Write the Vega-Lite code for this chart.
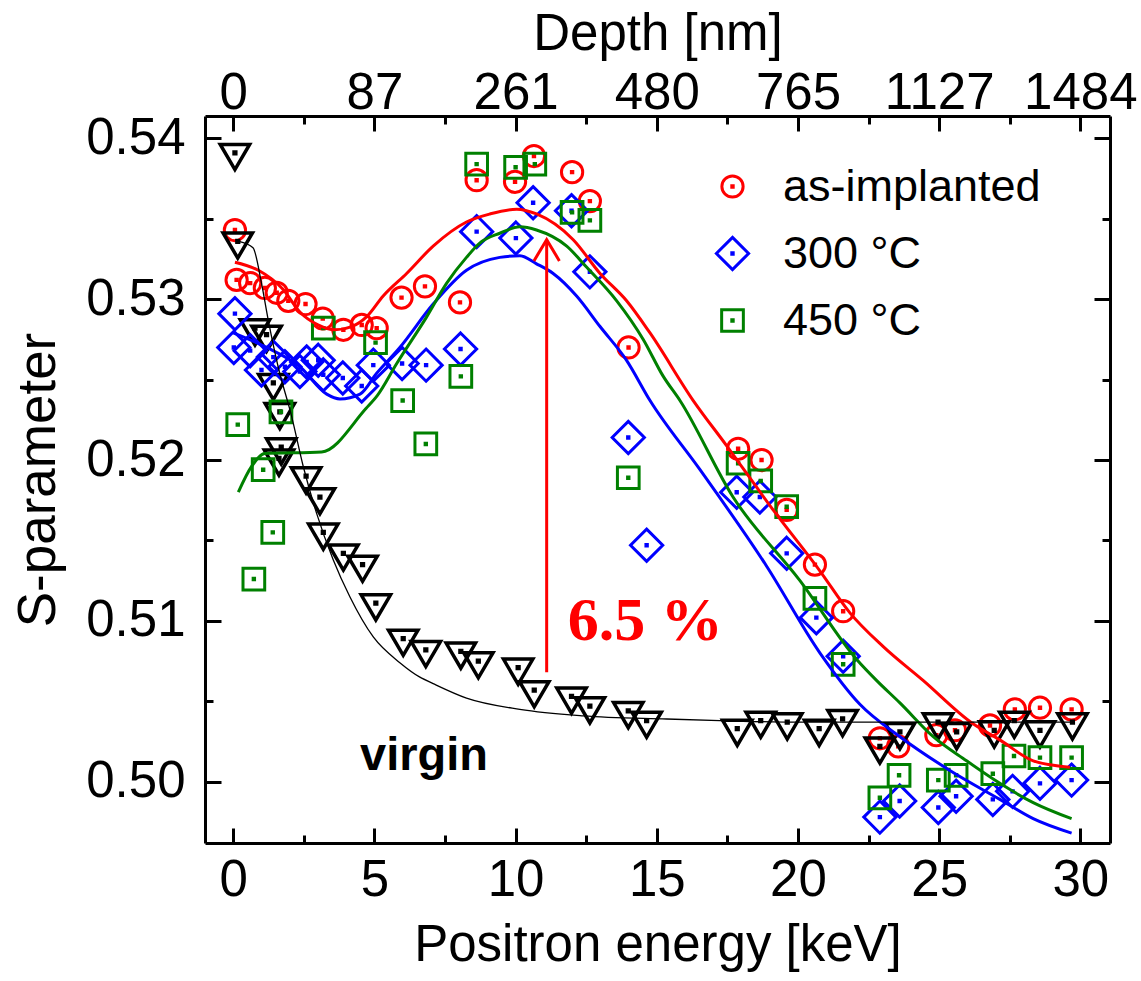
{
  "$schema": "https://vega.github.io/schema/vega-lite/v6.json",
  "width": 905,
  "height": 727,
  "autosize": {"type": "none"},
  "padding": {"left": 205, "top": 116, "right": 31, "bottom": 138},
  "background": "white",
  "config": {
    "view": {"stroke": null},
    "font": "Liberation Sans",
    "axis": {"grid": false, "domainColor": "black", "domainWidth": 3, "tickColor": "black", "tickWidth": 3, "labelColor": "black", "titleColor": "black", "labelFont": "Liberation Sans", "titleFont": "Liberation Sans", "titleFontWeight": "normal", "labelFontSize": 51, "titleFontSize": 51, "labelFlush": false, "labelOverlap": false}
  },
  "datasets": {
    "points": [
      {"series": "as-implanted", "E": 0.06, "S": 0.5343},
      {"series": "as-implanted", "E": 0.12, "S": 0.5312},
      {"series": "as-implanted", "E": 0.6, "S": 0.5310},
      {"series": "as-implanted", "E": 1.12, "S": 0.5307},
      {"series": "as-implanted", "E": 1.54, "S": 0.5304},
      {"series": "as-implanted", "E": 1.95, "S": 0.5299},
      {"series": "as-implanted", "E": 2.56, "S": 0.5297},
      {"series": "as-implanted", "E": 3.17, "S": 0.5288},
      {"series": "as-implanted", "E": 3.9, "S": 0.5281},
      {"series": "as-implanted", "E": 4.55, "S": 0.5284},
      {"series": "as-implanted", "E": 5.08, "S": 0.5282},
      {"series": "as-implanted", "E": 5.96, "S": 0.5301},
      {"series": "as-implanted", "E": 6.79, "S": 0.5308},
      {"series": "as-implanted", "E": 8.03, "S": 0.5298},
      {"series": "as-implanted", "E": 8.62, "S": 0.5374},
      {"series": "as-implanted", "E": 9.98, "S": 0.5373},
      {"series": "as-implanted", "E": 10.65, "S": 0.5389},
      {"series": "as-implanted", "E": 12.0, "S": 0.5379},
      {"series": "as-implanted", "E": 12.63, "S": 0.5361},
      {"series": "as-implanted", "E": 14.0, "S": 0.5270},
      {"series": "as-implanted", "E": 17.88, "S": 0.5207},
      {"series": "as-implanted", "E": 18.71, "S": 0.5200},
      {"series": "as-implanted", "E": 19.6, "S": 0.5169},
      {"series": "as-implanted", "E": 20.6, "S": 0.5135},
      {"series": "as-implanted", "E": 21.6, "S": 0.5106},
      {"series": "as-implanted", "E": 22.9, "S": 0.5027},
      {"series": "as-implanted", "E": 23.55, "S": 0.5022},
      {"series": "as-implanted", "E": 24.9, "S": 0.5029},
      {"series": "as-implanted", "E": 25.56, "S": 0.5032},
      {"series": "as-implanted", "E": 26.8, "S": 0.5035},
      {"series": "as-implanted", "E": 27.68, "S": 0.5045},
      {"series": "as-implanted", "E": 28.57, "S": 0.5046},
      {"series": "as-implanted", "E": 29.69, "S": 0.5045},
      {"series": "300 °C", "E": 0.06, "S": 0.5291},
      {"series": "300 °C", "E": 0.02, "S": 0.5270},
      {"series": "300 °C", "E": 0.6, "S": 0.5268},
      {"series": "300 °C", "E": 1.0, "S": 0.5256},
      {"series": "300 °C", "E": 1.42, "S": 0.5264},
      {"series": "300 °C", "E": 1.83, "S": 0.5258},
      {"series": "300 °C", "E": 2.36, "S": 0.5255},
      {"series": "300 °C", "E": 2.6, "S": 0.5261},
      {"series": "300 °C", "E": 3.01, "S": 0.5262},
      {"series": "300 °C", "E": 3.19, "S": 0.5253},
      {"series": "300 °C", "E": 3.88, "S": 0.5251},
      {"series": "300 °C", "E": 4.55, "S": 0.5246},
      {"series": "300 °C", "E": 4.96, "S": 0.5259},
      {"series": "300 °C", "E": 5.98, "S": 0.5260},
      {"series": "300 °C", "E": 6.83, "S": 0.5259},
      {"series": "300 °C", "E": 8.05, "S": 0.5269},
      {"series": "300 °C", "E": 8.62, "S": 0.5342},
      {"series": "300 °C", "E": 10.01, "S": 0.5338},
      {"series": "300 °C", "E": 10.62, "S": 0.5360},
      {"series": "300 °C", "E": 11.98, "S": 0.5355},
      {"series": "300 °C", "E": 12.63, "S": 0.5317},
      {"series": "300 °C", "E": 13.99, "S": 0.5214},
      {"series": "300 °C", "E": 14.64, "S": 0.5147},
      {"series": "300 °C", "E": 17.83, "S": 0.5180},
      {"series": "300 °C", "E": 18.65, "S": 0.5177},
      {"series": "300 °C", "E": 19.6, "S": 0.5142},
      {"series": "300 °C", "E": 20.65, "S": 0.5102},
      {"series": "300 °C", "E": 21.6, "S": 0.5078},
      {"series": "300 °C", "E": 22.9, "S": 0.4978},
      {"series": "300 °C", "E": 23.6, "S": 0.4988},
      {"series": "300 °C", "E": 24.97, "S": 0.4984},
      {"series": "300 °C", "E": 25.6, "S": 0.4991},
      {"series": "300 °C", "E": 26.9, "S": 0.4989},
      {"series": "300 °C", "E": 27.6, "S": 0.4994},
      {"series": "300 °C", "E": 28.57, "S": 0.4999},
      {"series": "300 °C", "E": 29.69, "S": 0.5001},
      {"series": "450 °C", "E": 0.16, "S": 0.5222},
      {"series": "450 °C", "E": 0.73, "S": 0.5126},
      {"series": "450 °C", "E": 1.06, "S": 0.5194},
      {"series": "450 °C", "E": 1.4, "S": 0.5155},
      {"series": "450 °C", "E": 1.69, "S": 0.5230},
      {"series": "450 °C", "E": 3.19, "S": 0.5282},
      {"series": "450 °C", "E": 5.04, "S": 0.5273},
      {"series": "450 °C", "E": 6.0, "S": 0.5237},
      {"series": "450 °C", "E": 6.82, "S": 0.5210},
      {"series": "450 °C", "E": 8.06, "S": 0.5252},
      {"series": "450 °C", "E": 8.62, "S": 0.5384},
      {"series": "450 °C", "E": 10.0, "S": 0.5382},
      {"series": "450 °C", "E": 10.68, "S": 0.5384},
      {"series": "450 °C", "E": 12.0, "S": 0.5354},
      {"series": "450 °C", "E": 12.63, "S": 0.5349},
      {"series": "450 °C", "E": 13.99, "S": 0.5189},
      {"series": "450 °C", "E": 17.88, "S": 0.5198},
      {"series": "450 °C", "E": 18.68, "S": 0.5187},
      {"series": "450 °C", "E": 19.6, "S": 0.5171},
      {"series": "450 °C", "E": 20.6, "S": 0.5114},
      {"series": "450 °C", "E": 21.6, "S": 0.5073},
      {"series": "450 °C", "E": 22.9, "S": 0.4990},
      {"series": "450 °C", "E": 23.58, "S": 0.5004},
      {"series": "450 °C", "E": 24.97, "S": 0.5001},
      {"series": "450 °C", "E": 25.6, "S": 0.5004},
      {"series": "450 °C", "E": 26.9, "S": 0.5005},
      {"series": "450 °C", "E": 27.65, "S": 0.5016},
      {"series": "450 °C", "E": 28.57, "S": 0.5015},
      {"series": "450 °C", "E": 29.69, "S": 0.5015}
    ],
    "virgin": [
      {"E": 0.06, "S": 0.5391}, {"E": 0.16, "S": 0.5336}, {"E": 0.77, "S": 0.5282}, {"E": 1.18, "S": 0.5278},
      {"E": 1.42, "S": 0.5248}, {"E": 1.65, "S": 0.5230}, {"E": 1.7, "S": 0.5208}, {"E": 1.62, "S": 0.5201},
      {"E": 2.58, "S": 0.5190}, {"E": 3.07, "S": 0.5177}, {"E": 3.19, "S": 0.5155}, {"E": 3.9, "S": 0.5142},
      {"E": 4.58, "S": 0.5135}, {"E": 5.05, "S": 0.5111}, {"E": 6.02, "S": 0.5089}, {"E": 6.82, "S": 0.5082},
      {"E": 8.06, "S": 0.5081}, {"E": 8.68, "S": 0.5075}, {"E": 10.09, "S": 0.5071}, {"E": 10.66, "S": 0.5057},
      {"E": 11.98, "S": 0.5053}, {"E": 12.63, "S": 0.5047}, {"E": 13.99, "S": 0.5044}, {"E": 14.64, "S": 0.5038},
      {"E": 17.85, "S": 0.5033}, {"E": 18.68, "S": 0.5038}, {"E": 19.62, "S": 0.5037}, {"E": 20.75, "S": 0.5033},
      {"E": 21.58, "S": 0.5039}, {"E": 22.9, "S": 0.5022}, {"E": 23.61, "S": 0.5031}, {"E": 24.96, "S": 0.5037},
      {"E": 25.62, "S": 0.5031}, {"E": 26.95, "S": 0.5032}, {"E": 27.66, "S": 0.5038}, {"E": 28.57, "S": 0.5032},
      {"E": 29.72, "S": 0.5037}
    ],
    "fits": [
      {"series": "as-implanted", "E": 0.06, "S": 0.5323},
      {"series": "as-implanted", "E": 0.89, "S": 0.5318},
      {"series": "as-implanted", "E": 1.77, "S": 0.5306},
      {"series": "as-implanted", "E": 2.36, "S": 0.5292},
      {"series": "as-implanted", "E": 3.0, "S": 0.5284},
      {"series": "as-implanted", "E": 3.6, "S": 0.5281},
      {"series": "as-implanted", "E": 4.2, "S": 0.5283},
      {"series": "as-implanted", "E": 4.72, "S": 0.5289},
      {"series": "as-implanted", "E": 5.31, "S": 0.5302},
      {"series": "as-implanted", "E": 6.14, "S": 0.5316},
      {"series": "as-implanted", "E": 7.08, "S": 0.5333},
      {"series": "as-implanted", "E": 8.26, "S": 0.5348},
      {"series": "as-implanted", "E": 9.09, "S": 0.5353},
      {"series": "as-implanted", "E": 10.04, "S": 0.5356},
      {"series": "as-implanted", "E": 10.74, "S": 0.5353},
      {"series": "as-implanted", "E": 12.04, "S": 0.5337},
      {"series": "as-implanted", "E": 12.99, "S": 0.5316},
      {"series": "as-implanted", "E": 13.93, "S": 0.5299},
      {"series": "as-implanted", "E": 14.76, "S": 0.5279},
      {"series": "as-implanted", "E": 16.29, "S": 0.5237},
      {"series": "as-implanted", "E": 17.47, "S": 0.5209},
      {"series": "as-implanted", "E": 19.12, "S": 0.5169},
      {"series": "as-implanted", "E": 20.78, "S": 0.5131},
      {"series": "as-implanted", "E": 21.84, "S": 0.5105},
      {"series": "as-implanted", "E": 23.02, "S": 0.5084},
      {"series": "as-implanted", "E": 24.43, "S": 0.5063},
      {"series": "as-implanted", "E": 26.2, "S": 0.5036},
      {"series": "as-implanted", "E": 27.15, "S": 0.5026},
      {"series": "as-implanted", "E": 28.33, "S": 0.5013},
      {"series": "as-implanted", "E": 29.63, "S": 0.5009},
      {"series": "300 °C", "E": 0.0, "S": 0.5279},
      {"series": "300 °C", "E": 1.18, "S": 0.5270},
      {"series": "300 °C", "E": 2.36, "S": 0.5258},
      {"series": "300 °C", "E": 3.31, "S": 0.5241},
      {"series": "300 °C", "E": 3.78, "S": 0.5238},
      {"series": "300 °C", "E": 4.49, "S": 0.5241},
      {"series": "300 °C", "E": 5.08, "S": 0.5254},
      {"series": "300 °C", "E": 5.9, "S": 0.5270},
      {"series": "300 °C", "E": 7.08, "S": 0.5297},
      {"series": "300 °C", "E": 8.26, "S": 0.5318},
      {"series": "300 °C", "E": 9.44, "S": 0.5326},
      {"series": "300 °C", "E": 10.15, "S": 0.5327},
      {"series": "300 °C", "E": 10.74, "S": 0.5322},
      {"series": "300 °C", "E": 11.33, "S": 0.5316},
      {"series": "300 °C", "E": 12.16, "S": 0.5302},
      {"series": "300 °C", "E": 12.99, "S": 0.5283},
      {"series": "300 °C", "E": 13.93, "S": 0.5262},
      {"series": "300 °C", "E": 14.76, "S": 0.5237},
      {"series": "300 °C", "E": 16.53, "S": 0.5194},
      {"series": "300 °C", "E": 18.89, "S": 0.5134},
      {"series": "300 °C", "E": 20.78, "S": 0.5080},
      {"series": "300 °C", "E": 22.2, "S": 0.5048},
      {"series": "300 °C", "E": 23.61, "S": 0.5028},
      {"series": "300 °C", "E": 25.38, "S": 0.5007},
      {"series": "300 °C", "E": 27.15, "S": 0.4989},
      {"series": "300 °C", "E": 28.33, "S": 0.4977},
      {"series": "300 °C", "E": 29.69, "S": 0.4968},
      {"series": "450 °C", "E": 0.18, "S": 0.5180},
      {"series": "450 °C", "E": 0.65, "S": 0.5196},
      {"series": "450 °C", "E": 1.12, "S": 0.5204},
      {"series": "450 °C", "E": 3.13, "S": 0.5205},
      {"series": "450 °C", "E": 4.7, "S": 0.5232},
      {"series": "450 °C", "E": 5.1, "S": 0.5240},
      {"series": "450 °C", "E": 5.79, "S": 0.5260},
      {"series": "450 °C", "E": 6.85, "S": 0.5289},
      {"series": "450 °C", "E": 7.56, "S": 0.5310},
      {"series": "450 °C", "E": 8.26, "S": 0.5326},
      {"series": "450 °C", "E": 8.74, "S": 0.5335},
      {"series": "450 °C", "E": 9.44, "S": 0.5341},
      {"series": "450 °C", "E": 10.15, "S": 0.5345},
      {"series": "450 °C", "E": 10.74, "S": 0.5343},
      {"series": "450 °C", "E": 11.81, "S": 0.5333},
      {"series": "450 °C", "E": 12.51, "S": 0.5320},
      {"series": "450 °C", "E": 13.58, "S": 0.5299},
      {"series": "450 °C", "E": 14.52, "S": 0.5275},
      {"series": "450 °C", "E": 15.23, "S": 0.5252},
      {"series": "450 °C", "E": 15.82, "S": 0.5237},
      {"series": "450 °C", "E": 17.7, "S": 0.5177},
      {"series": "450 °C", "E": 20.07, "S": 0.5125},
      {"series": "450 °C", "E": 22.08, "S": 0.5076},
      {"series": "450 °C", "E": 22.78, "S": 0.5063},
      {"series": "450 °C", "E": 23.61, "S": 0.5049},
      {"series": "450 °C", "E": 24.79, "S": 0.5028},
      {"series": "450 °C", "E": 25.97, "S": 0.5013},
      {"series": "450 °C", "E": 27.15, "S": 0.4999},
      {"series": "450 °C", "E": 28.33, "S": 0.4987},
      {"series": "450 °C", "E": 29.69, "S": 0.4977}
    ],
    "virginfit": [
      {"E": 0.2, "S": 0.5336}, {"E": 0.7, "S": 0.5332}, {"E": 1.0, "S": 0.5310}, {"E": 1.24, "S": 0.5287},
      {"E": 1.59, "S": 0.5258}, {"E": 2.07, "S": 0.5227}, {"E": 2.48, "S": 0.5196}, {"E": 2.95, "S": 0.5167},
      {"E": 3.54, "S": 0.5138}, {"E": 4.13, "S": 0.5115}, {"E": 4.96, "S": 0.5090}, {"E": 5.9, "S": 0.5074},
      {"E": 6.61, "S": 0.5065}, {"E": 7.08, "S": 0.5061}, {"E": 8.26, "S": 0.5052}, {"E": 10.15, "S": 0.5045},
      {"E": 12.39, "S": 0.5041}, {"E": 15.35, "S": 0.5039}, {"E": 17.23, "S": 0.5038}, {"E": 20.0, "S": 0.5037},
      {"E": 25.0, "S": 0.5037}, {"E": 29.7, "S": 0.5037}
    ],
    "arrow": [{"E": 11.1, "S0": 0.5068, "S1": 0.5337}],
    "labels": [
      {"E": 11.85, "S": 0.5088, "txt": "6.5 %", "kind": "pct"},
      {"E": 4.49, "S": 0.50073, "txt": "virgin", "kind": "virgin"}
    ]
  },
  "layer": [
    {
      "data": {"name": "points"},
      "transform": [{"filter": "datum.series === 'as-implanted'"}],
      "mark": {"type": "point", "filled": false, "size": 1225, "strokeWidth": 3, "opacity": 1},
      "encoding": {
        "x": {"field": "E", "type": "quantitative", "scale": {"domain": [-1, 31.05], "nice": false, "zero": false},
          "axis": {"orient": "bottom", "values": [0, 2.5, 5, 7.5, 10, 12.5, 15, 17.5, 20, 22.5, 25, 27.5, 30],
            "labelExpr": "datum.value % 5 === 0 ? format(datum.value, 'd') : ''",
            "tickSize": {"condition": {"test": "datum.value % 5 === 0", "value": -15}, "value": -8},
            "labelPadding": 27, "title": "Positron energy [keV]", "titlePadding": 8}},
        "y": {"field": "S", "type": "quantitative", "scale": {"domain": [0.49619, 0.54139], "nice": false, "zero": false},
          "axis": {"orient": "left", "values": [0.5, 0.505, 0.51, 0.515, 0.52, 0.525, 0.53, 0.535, 0.54],
            "labelExpr": "round(datum.value * 1000) % 10 === 0 ? format(datum.value, '.2f') : ''",
            "tickSize": {"condition": {"test": "round(datum.value * 1000) % 10 === 0", "value": -16}, "value": -8},
            "labelPadding": 36, "title": "S-parameter", "titleFontSize": 53, "titlePadding": 20}},
        "color": {"field": "series", "type": "nominal",
          "scale": {"domain": ["as-implanted", "300 °C", "450 °C"], "range": ["#ff0000", "#0000ff", "#008000"]},
          "legend": {"orient": "none", "legendX": 505, "legendY": 48, "title": null, "padding": 0, "symbolSize": 1225, "symbolStrokeWidth": 3, "labelFontSize": 45, "labelFont": "Liberation Sans", "labelLimit": 500, "labelOffset": 28, "rowPadding": 21,
            "encode": {"labels": {"update": {"fill": {"signal": "datum.value === 'as-implanted' ? '#ff0000' : datum.value === '300 °C' ? '#0000ff' : '#008000'"}}}}}},
        "shape": {"field": "series", "type": "nominal",
          "scale": {"domain": ["as-implanted", "300 °C", "450 °C"], "range": [
            "M0.607,0C0.607,0.3352 0.3352,0.607 0,0.607C-0.3352,0.607 -0.607,0.3352 -0.607,0C-0.607,-0.3352 -0.3352,-0.607 0,-0.607C0.3352,-0.607 0.607,-0.3352 0.607,0Z M-0.04,-0.04L0.04,-0.04L0.04,0.04L-0.04,0.04Z",
            "M0,-0.92L0.92,0L0,0.92L-0.92,0Z M-0.04,-0.04L0.04,-0.04L0.04,0.04L-0.04,0.04Z",
            "M-0.62,-0.62L0.62,-0.62L0.62,0.62L-0.62,0.62Z M-0.04,-0.04L0.04,-0.04L0.04,0.04L-0.04,0.04Z"]},
          "legend": {"orient": "none", "legendX": 505, "legendY": 48, "title": null, "padding": 0, "symbolSize": 1225, "symbolStrokeWidth": 3, "labelFontSize": 45, "labelFont": "Liberation Sans", "labelLimit": 500, "labelOffset": 28, "rowPadding": 21,
            "encode": {"labels": {"update": {"fill": {"signal": "datum.value === 'as-implanted' ? '#ff0000' : datum.value === '300 °C' ? '#0000ff' : '#008000'"}}}}}}
      }
    },
    {
      "data": {"name": "virgin"},
      "mark": {"type": "point", "filled": false, "size": 1225, "strokeWidth": 3.5, "color": "black", "opacity": 1,
        "shape": "M-0.84,-0.48L0.84,-0.48L0,0.96Z M-0.05,-0.05L0.05,-0.05L0.05,0.05L-0.05,0.05Z"},
      "encoding": {
        "x": {"field": "E", "type": "quantitative", "scale": {"domain": [-1, 31.05], "nice": false, "zero": false}, "axis": null},
        "y": {"field": "S", "type": "quantitative", "scale": {"domain": [0.49619, 0.54139], "nice": false, "zero": false}, "axis": null}
      }
    },
    {
      "data": {"name": "points"},
      "transform": [{"filter": "datum.series !== 'as-implanted'"}],
      "mark": {"type": "point", "filled": false, "size": 1225, "strokeWidth": 3, "opacity": 1},
      "encoding": {
        "x": {"field": "E", "type": "quantitative", "scale": {"domain": [-1, 31.05], "nice": false, "zero": false}, "axis": null},
        "y": {"field": "S", "type": "quantitative", "scale": {"domain": [0.49619, 0.54139], "nice": false, "zero": false}, "axis": null},
        "color": {"field": "series", "type": "nominal",
          "scale": {"domain": ["as-implanted", "300 °C", "450 °C"], "range": ["#ff0000", "#0000ff", "#008000"]},
          "legend": {"orient": "none", "legendX": 505, "legendY": 48, "title": null, "padding": 0, "symbolSize": 1225, "symbolStrokeWidth": 3, "labelFontSize": 45, "labelFont": "Liberation Sans", "labelLimit": 500, "labelOffset": 28, "rowPadding": 21,
            "encode": {"labels": {"update": {"fill": {"signal": "datum.value === 'as-implanted' ? '#ff0000' : datum.value === '300 °C' ? '#0000ff' : '#008000'"}}}}}},
        "shape": {"field": "series", "type": "nominal",
          "scale": {"domain": ["as-implanted", "300 °C", "450 °C"], "range": [
            "M0.607,0C0.607,0.3352 0.3352,0.607 0,0.607C-0.3352,0.607 -0.607,0.3352 -0.607,0C-0.607,-0.3352 -0.3352,-0.607 0,-0.607C0.3352,-0.607 0.607,-0.3352 0.607,0Z M-0.04,-0.04L0.04,-0.04L0.04,0.04L-0.04,0.04Z",
            "M0,-0.92L0.92,0L0,0.92L-0.92,0Z M-0.04,-0.04L0.04,-0.04L0.04,0.04L-0.04,0.04Z",
            "M-0.62,-0.62L0.62,-0.62L0.62,0.62L-0.62,0.62Z M-0.04,-0.04L0.04,-0.04L0.04,0.04L-0.04,0.04Z"]},
          "legend": {"orient": "none", "legendX": 505, "legendY": 48, "title": null, "padding": 0, "symbolSize": 1225, "symbolStrokeWidth": 3, "labelFontSize": 45, "labelFont": "Liberation Sans", "labelLimit": 500, "labelOffset": 28, "rowPadding": 21,
            "encode": {"labels": {"update": {"fill": {"signal": "datum.value === 'as-implanted' ? '#ff0000' : datum.value === '300 °C' ? '#0000ff' : '#008000'"}}}}}}
      }
    },
    {
      "data": {"name": "fits"},
      "mark": {"type": "line", "strokeWidth": 3, "interpolate": "monotone"},
      "encoding": {
        "x": {"field": "E", "type": "quantitative", "scale": {"domain": [-1, 31.05], "nice": false, "zero": false}, "axis": null},
        "y": {"field": "S", "type": "quantitative", "scale": {"domain": [0.49619, 0.54139], "nice": false, "zero": false}, "axis": null},
        "detail": {"field": "series", "type": "nominal"},
        "stroke": {"field": "series", "type": "nominal", "scale": {"domain": ["as-implanted", "300 °C", "450 °C"], "range": ["#ff0000", "#0000ff", "#008000"]}, "legend": null}
      }
    },
    {
      "data": {"name": "virginfit"},
      "mark": {"type": "line", "strokeWidth": 1.3, "color": "black", "interpolate": "monotone"},
      "encoding": {
        "x": {"field": "E", "type": "quantitative", "scale": {"domain": [-1, 31.05], "nice": false, "zero": false}, "axis": null},
        "y": {"field": "S", "type": "quantitative", "scale": {"domain": [0.49619, 0.54139], "nice": false, "zero": false}, "axis": null}
      }
    },
    {
      "data": {"name": "arrow"},
      "mark": {"type": "rule", "color": "#ff0000", "strokeWidth": 3},
      "encoding": {
        "x": {"field": "E", "type": "quantitative", "scale": {"domain": [-1, 31.05], "nice": false, "zero": false},
          "axis": {"orient": "top", "values": [0, 2.5, 5, 7.5, 10, 12.5, 15, 17.5, 20, 22.5, 25, 27.5, 30],
            "labelExpr": "datum.value === 0 ? '0' : datum.value === 5 ? '87' : datum.value === 10 ? '261' : datum.value === 15 ? '480' : datum.value === 20 ? '765' : datum.value === 25 ? '1127' : datum.value === 30 ? '1484' : ''",
            "tickSize": {"condition": {"test": "datum.value % 5 === 0", "value": -15}, "value": -8},
            "labelPadding": 12, "title": "Depth [nm]", "titlePadding": 0}},
        "y": {"field": "S0", "type": "quantitative", "scale": {"domain": [0.49619, 0.54139], "nice": false, "zero": false},
          "axis": {"orient": "right", "values": [0.5, 0.505, 0.51, 0.515, 0.52, 0.525, 0.53, 0.535, 0.54], "labels": false, "title": null,
            "tickSize": {"condition": {"test": "round(datum.value * 1000) % 10 === 0", "value": -16}, "value": -8}}},
        "y2": {"field": "S1"}
      }
    },
    {
      "data": {"name": "arrow"},
      "mark": {"type": "point", "filled": false, "size": 1800, "strokeWidth": 3, "color": "#ff0000", "opacity": 1, "shape": "M-0.6,1L0,0L0.6,1"},
      "encoding": {
        "x": {"field": "E", "type": "quantitative", "scale": {"domain": [-1, 31.05], "nice": false, "zero": false}, "axis": null},
        "y": {"field": "S1", "type": "quantitative", "scale": {"domain": [0.49619, 0.54139], "nice": false, "zero": false}, "axis": null}
      }
    },
    {
      "data": {"name": "labels"},
      "transform": [{"filter": "datum.kind === 'pct'"}],
      "mark": {"type": "text", "font": "Liberation Serif", "fontWeight": "bold", "fontSize": 62, "color": "#ff0000", "align": "left", "baseline": "alphabetic"},
      "encoding": {
        "x": {"field": "E", "type": "quantitative", "scale": {"domain": [-1, 31.05], "nice": false, "zero": false}, "axis": null},
        "y": {"field": "S", "type": "quantitative", "scale": {"domain": [0.49619, 0.54139], "nice": false, "zero": false}, "axis": null},
        "text": {"field": "txt"}
      }
    },
    {
      "data": {"name": "labels"},
      "transform": [{"filter": "datum.kind === 'virgin'"}],
      "mark": {"type": "text", "font": "Liberation Sans", "fontWeight": "bold", "fontSize": 47, "color": "black", "align": "left", "baseline": "alphabetic"},
      "encoding": {
        "x": {"field": "E", "type": "quantitative", "scale": {"domain": [-1, 31.05], "nice": false, "zero": false}, "axis": null},
        "y": {"field": "S", "type": "quantitative", "scale": {"domain": [0.49619, 0.54139], "nice": false, "zero": false}, "axis": null},
        "text": {"field": "txt"}
      }
    }
  ],
  "resolve": {"axis": {"x": "independent", "y": "independent"}}
}
